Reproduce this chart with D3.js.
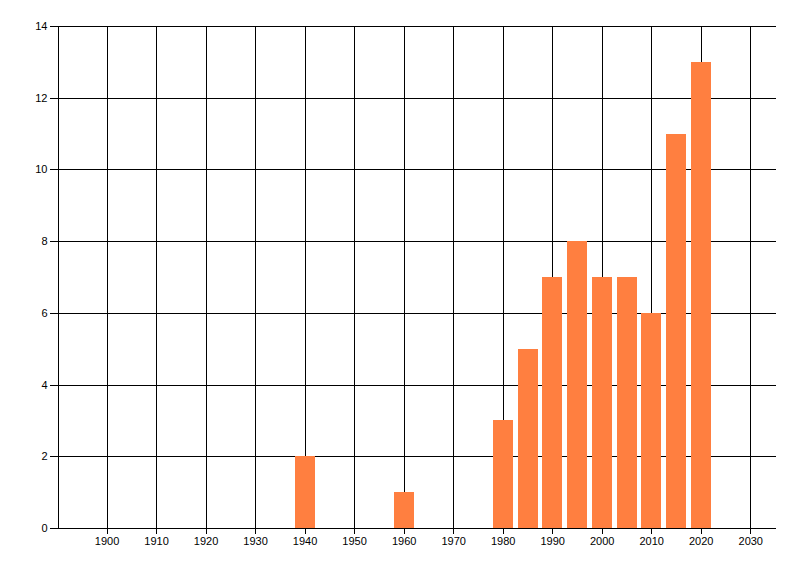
<!DOCTYPE html>
<html>
<head>
<meta charset="utf-8">
<script src="https://cdn.jsdelivr.net/npm/d3@7"></script>
<style>
  body { margin: 0; background: #fff; }
  text { font-family: "Liberation Sans", Arial, sans-serif; font-size: 11px; fill: #000; }
</style>
</head>
<body>
<div id="chart"></div>
<script>
// bars: year -> count
const years = [1940, 1960, 1980, 1985, 1990, 1995, 2000, 2005, 2010, 2015, 2020];
const counts = [2, 1, 3, 5, 7, 8, 7, 7, 6, 11, 13];
const xTicks = [1900, 1910, 1920, 1930, 1940, 1950, 1960, 1970, 1980, 1990, 2000, 2010, 2020, 2030];
const yTicks = [0, 2, 4, 6, 8, 10, 12, 14];

const width = 800;
const height = 576;
const marginTop = 26;
const marginRight = 24;
const marginBottom = 48;
const marginLeft = 57;

const x = d3.scaleLinear()
  .domain([1890, 2035.2])
  .range([marginLeft, width - marginRight]);

const y = d3.scaleLinear()
  .domain([0, 14])
  .range([height - marginBottom, marginTop]);

const barW = x(1904) - x(1900);

const svg = d3.create("svg")
  .attr("width", width)
  .attr("height", height)
  .attr("viewBox", [0, 0, width, height]);

// grid
const grid = svg.append("g")
  .attr("stroke", "#000")
  .attr("stroke-width", 1)
  .attr("shape-rendering", "crispEdges");

grid.selectAll("line.h")
  .data(yTicks)
  .join("line")
  .attr("class", "h")
  .attr("x1", marginLeft)
  .attr("x2", width - marginRight)
  .attr("y1", d => Math.round(y(d)) + 0.5)
  .attr("y2", d => Math.round(y(d)) + 0.5);

grid.selectAll("line.v")
  .data(xTicks)
  .join("line")
  .attr("class", "v")
  .attr("x1", d => Math.round(x(d)) + 0.5)
  .attr("x2", d => Math.round(x(d)) + 0.5)
  .attr("y1", marginTop)
  .attr("y2", height - marginBottom);

// bars
svg.append("g")
  .attr("fill", "#ff7f40")
  .attr("shape-rendering", "crispEdges")
  .selectAll("rect")
  .data(years.map((yr, i) => ({ yr, n: counts[i] })))
  .join("rect")
  .attr("x", d => Math.round(x(d.yr) - barW / 2))
  .attr("width", Math.round(barW))
  .attr("y", d => Math.round(y(d.n)))
  .attr("height", d => Math.round(y(0)) - Math.round(y(d.n)) + 1);

// axes
const xAxis = svg.append("g")
  .attr("transform", `translate(0,${Math.round(y(0)) + 0.5})`)
  .call(d3.axisBottom(x).tickValues(xTicks).tickFormat(d3.format("d")).tickSize(5).tickSizeOuter(0));

const yAxis = svg.append("g")
  .attr("transform", `translate(${marginLeft + 0.5},0)`)
  .call(d3.axisLeft(y).tickValues(yTicks).tickSize(8).tickSizeOuter(0));

[xAxis, yAxis].forEach(g => {
  g.attr("shape-rendering", "crispEdges");
  g.select(".domain").attr("stroke", "#000");
  g.selectAll(".tick line").attr("stroke", "#000");
  g.selectAll(".tick text")
    .attr("fill", "#000")
    .attr("font-family", "'Liberation Sans', Arial, sans-serif")
    .attr("font-size", 11);
});
xAxis.select(".domain").attr("d", `M${marginLeft},0H${width - marginRight}`);
xAxis.selectAll(".tick text").attr("dy", "0.95em").attr("y", 6);
yAxis.selectAll(".tick text").attr("x", -10);

document.getElementById("chart").appendChild(svg.node());
</script>
</body>
</html>
